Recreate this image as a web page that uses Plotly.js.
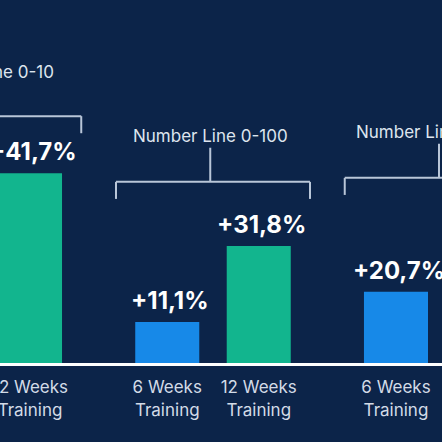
<!DOCTYPE html>
<html>
<head>
<meta charset="utf-8">
<script src="https://cdn.plot.ly/plotly-3.0.1.min.js"></script>
<style>
  html, body { margin: 0; padding: 0; background: #0c2449; }
  #chart { width: 442px; height: 442px; }
</style>
</head>
<body>
<div id="chart"></div>
<script>
// ---- data (visible part of the chart) ----
const groups = ["Number Line 0-10", "Number Line 0-100", "Number Line 0-1000"];
const barGroup = [0, 1, 1, 2];            // group index of each visible bar
const barSlot = [1, 0, 1, 0];             // 0 = 6 weeks, 1 = 12 weeks
const barLabels = ["12 Weeks<br>Training", "6 Weeks<br>Training", "12 Weeks<br>Training", "6 Weeks<br>Training"];
const barHeights = [52.3, 11.3, 32.2, 19.6];   // drawn bar heights (as they appear)
const gainLabels = ["+41,7%", "+11,1%", "+31,8%", "+20,7%"];

// ---- layout helpers ----
const GROUP_STEP = 2.5;
const xPos = barGroup.map((g, i) => g * GROUP_STEP + barSlot[i]);
const groupCenter = groups.map((_, g) => g * GROUP_STEP + 0.5);
const xRange = [0.672, 5.503];
const toPaper = x => (x - xRange[0]) / (xRange[1] - xRange[0]);

const green = "#12b58e";
const blue = "#1789e8";
const barColors = barSlot.map(s => s === 1 ? green : blue);
const FONT = "Inter, 'Noto Sans', sans-serif";

const trace = {
  type: "bar",
  x: xPos,
  y: barHeights,
  width: 0.70,
  marker: { color: barColors, line: { width: 0 } },
  hoverinfo: "skip",
  cliponaxis: true
};

const bracketY = [68.0, 49.9, 51.0];
const bracketHalf = 1.06;
const tickLen = 4.7;
const stemLen = 9.4;
const labelY = [80.2, 62.5, 63.7];
const lineStyle = { color: "#b9c6d8", width: 2 };

const shapes = [];
const annotations = [];
groups.forEach((name, g) => {
  const c = groupCenter[g] - 0.03;
  const yb = bracketY[g];
  const x0 = groupCenter[g] - bracketHalf, x1 = groupCenter[g] + bracketHalf;
  shapes.push({ type: "line", xref: "x", yref: "y", x0: x0, x1: x1, y0: yb, y1: yb, line: lineStyle });
  shapes.push({ type: "line", xref: "x", yref: "y", x0: x0, x1: x0, y0: yb, y1: yb - tickLen, line: lineStyle });
  shapes.push({ type: "line", xref: "x", yref: "y", x0: x1, x1: x1, y0: yb, y1: yb - tickLen, line: lineStyle });
  shapes.push({ type: "line", xref: "x", yref: "y", x0: c, x1: c, y0: yb, y1: yb + stemLen, line: lineStyle });
  annotations.push({
    xref: "paper", yref: "y", x: toPaper(c), y: labelY[g],
    text: name, showarrow: false, xanchor: "center", yanchor: "middle",
    font: { family: FONT, size: 17, color: "#dde4ee" }
  });
});

gainLabels.forEach((t, i) => {
  annotations.push({
    xref: "x", yref: "y", x: xPos[i] + 0.03, y: barHeights[i],
    text: t, showarrow: false, xanchor: "center", yanchor: "bottom", yshift: 5,
    font: { family: FONT, size: 24, color: "#ffffff", weight: 700 }
  });
});

const layout = {
  width: 442, height: 442,
  margin: { l: 0, r: 0, t: 0, b: 79, pad: 0 },
  paper_bgcolor: "#0c2449",
  plot_bgcolor: "#0c2449",
  showlegend: false,
  xaxis: {
    range: xRange, type: "linear",
    tickmode: "array", tickvals: xPos, ticktext: barLabels,
    showgrid: false, zeroline: false,
    showline: true, linecolor: "#ffffff", linewidth: 3,
    ticks: "", ticklen: 0,
    ticklabeloverflow: "allow",
    ticklabelstandoff: 7,
    tickfont: { family: FONT, size: 17, color: "#d3dbe7" },
    fixedrange: true
  },
  yaxis: {
    range: [0, 100], showgrid: false, zeroline: false, showline: false,
    showticklabels: false, ticks: "", fixedrange: true
  },
  shapes: shapes,
  annotations: annotations
};

Plotly.newPlot("chart", [trace], layout, { displayModeBar: false, staticPlot: true });
</script>
</body>
</html>
